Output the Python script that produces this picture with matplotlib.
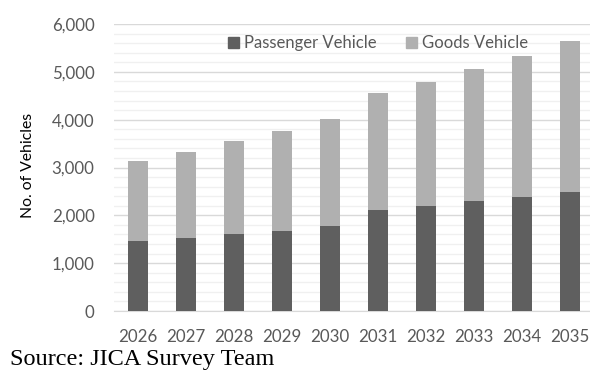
import matplotlib
matplotlib.use("Agg")
import matplotlib.pyplot as plt
from matplotlib.patches import Patch
from matplotlib.ticker import MultipleLocator, FuncFormatter

years = ["2026", "2027", "2028", "2029", "2030", "2031", "2032", "2033", "2034", "2035"]
passenger = [1460, 1530, 1600, 1680, 1770, 2120, 2200, 2290, 2380, 2490]
total = [3140, 3330, 3550, 3770, 4020, 4550, 4790, 5060, 5340, 5650]
goods = [t - p for t, p in zip(total, passenger)]

dark = "#5f5f5f"
light = "#b0b0b0"
txt = "#595959"

fig = plt.figure(figsize=(5.9, 3.7), dpi=100)
ax = fig.add_axes([114/590, 59/370, 480/590, 287/370])

x = list(range(len(years)))
ax.bar(x, passenger, width=0.4, color=dark, zorder=3)
ax.bar(x, goods, width=0.4, bottom=passenger, color=light, zorder=3)

ax.set_xlim(-0.5, 9.5)
ax.set_ylim(0, 6000)
ax.yaxis.set_major_locator(MultipleLocator(1000))
ax.yaxis.set_minor_locator(MultipleLocator(200))
ax.yaxis.set_major_formatter(FuncFormatter(lambda v, p: f"{int(v):,}"))
ax.grid(axis="y", which="major", color="#d9d9d9", linewidth=1.0, zorder=0)
ax.grid(axis="y", which="minor", color="#f0f0f0", linewidth=1.0, zorder=0)
ax.set_xticks(x)
ax.set_xticklabels(years)
for s in ["top", "right", "left"]:
    ax.spines[s].set_visible(False)
ax.spines["bottom"].set_color("#d9d9d9")
ax.tick_params(axis="both", which="both", length=0, colors=txt, labelsize=12)
ax.tick_params(axis="y", pad=14)
ax.tick_params(axis="x", pad=13)
for lab in ax.get_xticklabels() + ax.get_yticklabels():
    lab.set_fontfamily("Lato")
    lab.set_fontsize(12.2)

fig.text(28/590, 0.554, "No. of Vehicles", rotation=90, ha="center", va="center",
         fontsize=11.3, family="Lato", color="black")

handles = [Patch(color=dark, label="Passenger Vehicle"), Patch(color=light, label="Goods Vehicle")]
fig.legend(handles=handles, loc="center", bbox_to_anchor=(378/590, 1 - 43/370), ncol=2,
           frameon=False, prop={"family": "Lato", "size": 12}, labelcolor=txt,
           handlelength=0.65, handleheight=0.65, handletextpad=0.3, columnspacing=1.8)

fig.text(10/590, 1 - 359/370, "Source: JICA Survey Team", ha="left", va="center",
         fontsize=17.5, family="Liberation Serif", color="black")

fig.savefig("out.png", dpi=100)
